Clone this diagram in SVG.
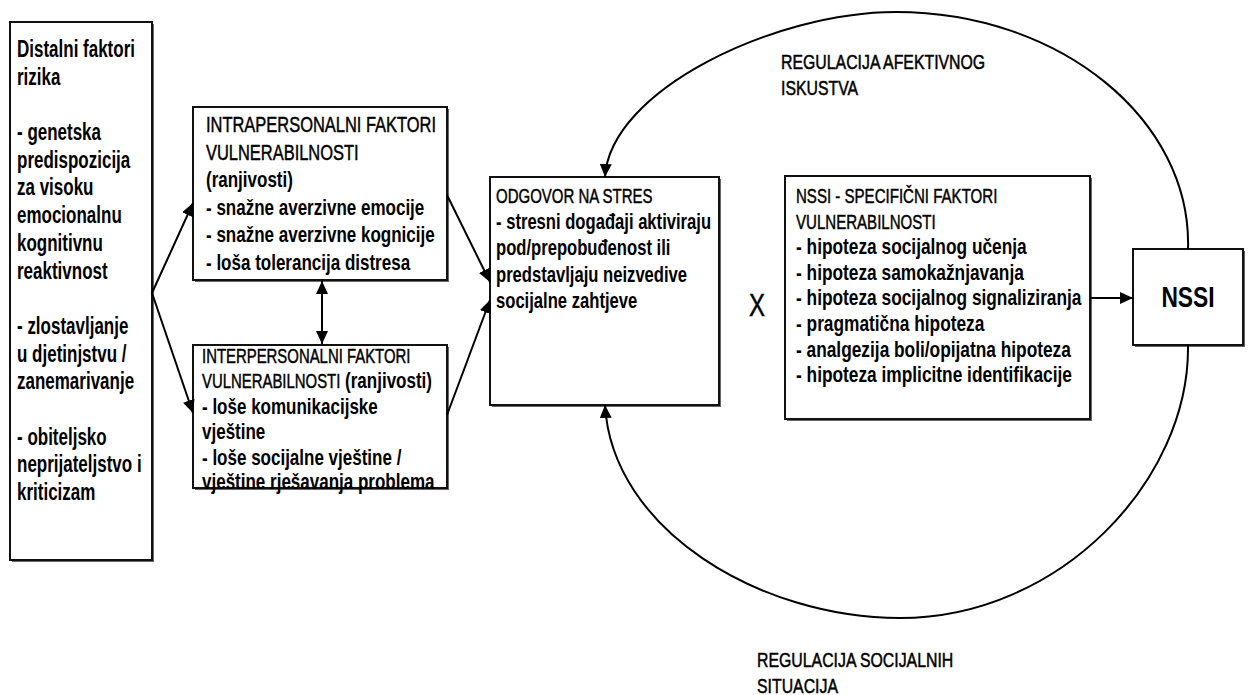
<svg xmlns="http://www.w3.org/2000/svg" width="1250" height="695" viewBox="0 0 1250 695">
  <defs>
    <marker id="ah" viewBox="0 0 13 12" refX="13" refY="6" markerWidth="13" markerHeight="12" markerUnits="userSpaceOnUse" orient="auto-start-reverse">
      <path d="M0,0 L13,6 L0,12 z" fill="#000"/>
    </marker>
    <style>
      .box { fill: #fff; stroke: #111; stroke-width: 2; }
      .shadow { fill: #666; }
      .b { font-family: "Liberation Sans", Arial, sans-serif; font-weight: bold; font-size: 22px; fill: #000; }
      .h { font-family: "Liberation Sans", Arial, sans-serif; font-weight: normal; fill: #000; stroke: #000; stroke-width: 0.45px; }
      .lbl { font-family: "Liberation Sans", Arial, sans-serif; font-weight: normal; font-size: 20.5px; fill: #000; stroke: #000; stroke-width: 0.5px; }
      .con { fill: none; stroke: #000; stroke-width: 2; }
    </style>
  </defs>

  <rect width="1250" height="695" fill="#fff"/>

  <!-- distal risk factors -->
  <g id="distalni">
    <rect class="shadow" x="12" y="24" width="142" height="538"/>
    <rect class="box" x="10" y="22" width="142" height="538"/>
    <g transform="translate(17 0) scale(0.723 1)" class="b" style="font-size:23.5px">
      <text y="57">Distalni faktori</text>
      <text y="84.7">rizika</text>
      <text y="140.1">- genetska</text>
      <text y="167.8">predispozicija</text>
      <text y="195.5">za visoku</text>
      <text y="223.2">emocionalnu</text>
      <text y="250.9">kognitivnu</text>
      <text y="278.6">reaktivnost</text>
      <text y="334">- zlostavljanje</text>
      <text y="361.7">u djetinjstvu /</text>
      <text y="389.4">zanemarivanje</text>
      <text y="444.8">- obiteljsko</text>
      <text y="472.5">neprijateljstvo i</text>
      <text y="500.2">kriticizam</text>
    </g>
  </g>

  <!-- intrapersonal vulnerability -->
  <g id="intrapersonalni">
    <rect class="shadow" x="195" y="109" width="254" height="173"/>
    <rect class="box" x="193" y="107" width="254" height="173"/>
    <g transform="translate(206 0) scale(0.773 1)">
      <text class="h" style="font-size:21.3px" y="132">INTRAPERSONALNI FAKTORI</text>
      <text class="h" style="font-size:21.3px" y="159.6">VULNERABILNOSTI</text>
      <text class="b" y="187.2">(ranjivosti)</text>
      <text class="b" y="214.8">- snažne averzivne emocije</text>
      <text class="b" y="242.4">- snažne averzivne kognicije</text>
      <text class="b" y="270">- loša tolerancija distresa</text>
    </g>
  </g>

  <!-- interpersonal vulnerability -->
  <g id="interpersonalni">
    <rect class="shadow" x="195" y="347" width="254" height="143"/>
    <rect class="box" x="193" y="345" width="254" height="143"/>
    <g transform="translate(202 0) scale(0.773 1)">
      <text class="h" style="font-size:19.3px" y="363">INTERPERSONALNI FAKTORI</text>
      <text class="h" style="font-size:19.3px" y="388.5">VULNERABILNOSTI<tspan class="b" style="stroke:none"> (ranjivosti)</tspan></text>
      <text class="b" y="414">- loše komunikacijske</text>
      <text class="b" y="439.5">vještine</text>
      <text class="b" y="465">- loše socijalne vještine /</text>
      <text class="b" y="489.5">vještine rješavanja problema</text>
    </g>
  </g>

  <!-- stress response -->
  <g id="odgovor">
    <rect class="shadow" x="492" y="179" width="229" height="228"/>
    <rect class="box" x="490" y="177" width="229" height="228"/>
    <g transform="translate(496 0) scale(0.773 1)">
      <text class="h" style="font-size:19.4px" y="203">ODGOVOR NA STRES</text>
      <text class="b" style="font-size:21.5px" y="229.2">- stresni događaji aktiviraju</text>
      <text class="b" style="font-size:21.5px" y="255.4">pod/prepobuđenost ili</text>
      <text class="b" style="font-size:21.5px" y="281.6">predstavljaju neizvedive</text>
      <text class="b" style="font-size:21.5px" y="307.8">socijalne zahtjeve</text>
    </g>
  </g>

  <!-- interaction sign -->
  <g id="puta">
    <text class="h" style="font-size:31px" text-anchor="middle" transform="translate(757 0) scale(0.773 1)" y="316">X</text>
  </g>

  <!-- NSSI-specific vulnerability -->
  <g id="nssi-specificni">
    <rect class="shadow" x="787" y="178" width="305" height="243"/>
    <rect class="box" x="785" y="176" width="305" height="243"/>
    <g transform="translate(796 0) scale(0.773 1)">
      <text class="h" style="font-size:19.5px" y="203">NSSI - SPECIFIČNI FAKTORI</text>
      <text class="h" style="font-size:19.5px" y="228.6">VULNERABILNOSTI</text>
      <text class="b" style="font-size:22.4px" y="254.2">- hipoteza socijalnog učenja</text>
      <text class="b" style="font-size:22.4px" y="279.8">- hipoteza samokažnjavanja</text>
      <text class="b" style="font-size:22.4px" y="305.4">- hipoteza socijalnog signaliziranja</text>
      <text class="b" style="font-size:22.4px" y="331">- pragmatična hipoteza</text>
      <text class="b" style="font-size:22.4px" y="356.6">- analgezija boli/opijatna hipoteza</text>
      <text class="b" style="font-size:22.4px" y="382.2">- hipoteza implicitne identifikacije</text>
    </g>
  </g>

  <!-- outcome -->
  <g id="nssi">
    <rect class="shadow" x="1135" y="251" width="110" height="96"/>
    <rect class="box" x="1133" y="249" width="110" height="96"/>
    <text class="b" style="font-size:29.5px" text-anchor="middle" transform="translate(1188 0) scale(0.773 1)" y="307">NSSI</text>
  </g>

  <!-- feedback loop labels -->
  <g id="oznake">
    <g transform="translate(781 0) scale(0.773 1)">
      <text class="lbl" y="69">REGULACIJA AFEKTIVNOG</text>
      <text class="lbl" y="95">ISKUSTVA</text>
    </g>
    <g transform="translate(757 0) scale(0.773 1)">
      <text class="lbl" y="667">REGULACIJA SOCIJALNIH</text>
      <text class="lbl" y="693">SITUACIJA</text>
    </g>
  </g>

  <!-- connectors -->
  <g id="veze">
    <line class="con" x1="152" y1="293" x2="193" y2="203" marker-end="url(#ah)"/>
    <line class="con" x1="152" y1="293" x2="193" y2="413" marker-end="url(#ah)"/>
    <line class="con" x1="322" y1="281" x2="322" y2="344" marker-start="url(#ah)" marker-end="url(#ah)"/>
    <line class="con" x1="447" y1="195" x2="490" y2="282" marker-end="url(#ah)"/>
    <line class="con" x1="447" y1="415" x2="490" y2="300" marker-end="url(#ah)"/>
    <line class="con" x1="1090" y1="298" x2="1133" y2="298" marker-end="url(#ah)"/>
    <path class="con" d="M1188,249 C1192,120 1060,12 896,12 C775,12 610,90 605,177" marker-end="url(#ah)"/>
    <path class="con" d="M1188,345 C1190,480 1060,618 900,618 C760,618 612,530 605,405" marker-end="url(#ah)"/>
  </g>
</svg>
